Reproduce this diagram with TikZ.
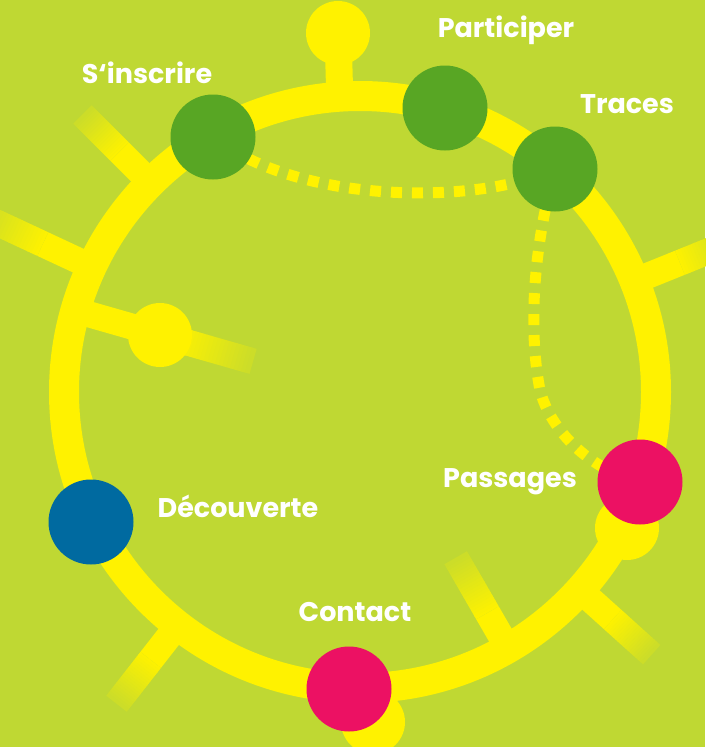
\documentclass[tikz,border=0pt]{standalone}
\usepackage{fontspec}
\setmainfont{Poppins}
\usetikzlibrary{calc}

\definecolor{bglime}{RGB}{191,216,51}
\definecolor{ringyellow}{RGB}{255,242,0}
\definecolor{dotgreen}{RGB}{88,166,36}
\definecolor{dotpink}{RGB}{236,17,99}
\definecolor{dotblue}{RGB}{0,106,160}

\pgfdeclarelayer{base}
\pgfdeclarelayer{trails}
\pgfsetlayers{base,trails,main}

\tikzset{
  ring/.style={draw=ringyellow, line width=30pt},
  spoke/.style={draw=ringyellow, line width=26pt},
  trail/.style={draw=ringyellow, line width=11pt, dash pattern=on 11pt off 10pt},
  knob/.style={circle, fill=ringyellow, minimum size=64pt, inner sep=0pt},
  stop/.style={circle, minimum size=85pt, inner sep=0pt},
  lbl/.style={text=white, anchor=base, font=\fontsize{27}{28}\selectfont\bfseries, inner sep=0pt}
}

\begin{document}
\begin{tikzpicture}[x=1pt, y=-1pt]
	\useasboundingbox (0,0) rectangle (705,747);

	\coordinate (ctr) at (360,392);
	\pgfmathsetmacro{\R}{296}

	\begin{pgfonlayer}{base}
	% Background
	\fill[bglime] (0,0) rectangle (705,747);

	% Draw the spokes (solid, then fading out)
	\foreach \ang/\rmid/\rout in {225/340/392, 205/350/420, 196/190/112, 338/345/405, 42/340/392, 60/255/192, 128/340/395} {
		\draw[spoke] ($(ctr)+(\ang:\R)$) -- ($(ctr)+(\ang:\rmid)$);
		\foreach \k in {1,...,20} {
			\pgfmathsetmacro{\ra}{\rmid+(\rout-\rmid)*(\k-1)/20}
			\pgfmathsetmacro{\rb}{\rmid+(\rout-\rmid)*(\k+0.2)/20}
			\pgfmathtruncatemacro{\pct}{100-\k*4}
			\draw[spoke, draw=ringyellow!\pct!bglime] ($(ctr)+(\ang:\ra)$) -- ($(ctr)+(\ang:\rb)$);
		}
	}

	% Top stem and knobs
	\node[knob] (topknob) at (338,33) {};
	\coordinate (topfoot) at (340,105);
	\draw[spoke, line width=27pt] (topknob.center) -- (topfoot);
	\node[knob] (leftknob) at (160,335) {};
	\node[knob] (rightknob) at (627,528) {};
	\node[knob] (bottomknob) at (373,722) {};

	% Draw the ring
	\draw[ring] (ctr) circle[radius=296pt];
	\end{pgfonlayer}

	% Stops on the ring
	\node[stop, fill=dotgreen] (sinscrire) at (213,137) {};
	\node[stop, fill=dotgreen] (participer) at (445,108) {};
	\node[stop, fill=dotgreen] (traces) at (555,169) {};
	\node[stop, fill=dotpink] (passages) at (640,482) {};
	\node[stop, fill=dotblue] (decouverte) at (91,522) {};
	\node[stop, fill=dotpink] (contact) at (349,689) {};

	% Dotted trails, under the stops
	\begin{pgfonlayer}{trails}
	\draw[trail] (sinscrire.center) .. controls (300,205) and (480,205) .. (traces.center);
	\draw[trail] (traces.center) .. controls (530,260) and (530,340) .. (540,390)
		.. controls (550,430) and (590,470) .. (passages.center);
	\end{pgfonlayer}

	% Label the stops
	\node[lbl] (lsinscrire) at (147,83) {S‘inscrire};
	\node[lbl] (lparticiper) at (506,37) {Participer};
	\node[lbl] (ltraces) at (627,113) {Traces};
	\node[lbl] (lpassages) at (510,487) {Passages};
	\node[lbl] (ldecouverte) at (238,517) {Découverte};
	\node[lbl] (lcontact) at (355,621) {Contact};
\end{tikzpicture}
\end{document}
